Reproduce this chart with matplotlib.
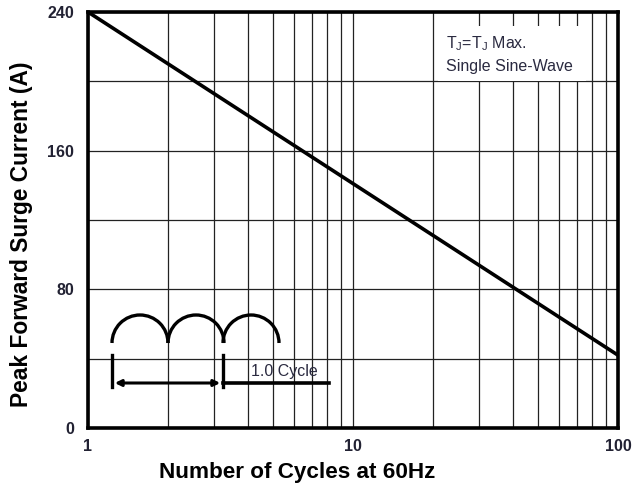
import numpy as np
import matplotlib.pyplot as plt
from matplotlib.patches import Arc, Rectangle, FancyArrowPatch

plt.rcParams['font.family'] = ['Liberation Sans', 'DejaVu Sans']

# data
cycles = [1, 100]
surge_current = [240, 42]
y_ticks = [0, 80, 160, 240]
y_minor = [40, 120, 200]
x_ticks = [1, 10, 100]
x_labels = ["1", "10", "100"]

fig = plt.figure(figsize=(6.42, 4.88), dpi=100)
ax = fig.add_axes([88/642, 60/488, 530/642, 416/488])

ax.plot(cycles, surge_current, color="black", linewidth=2.6, zorder=3)

ax.set_xscale("log")
ax.set_xlim(1, 100)
ax.set_ylim(0, 240)
ax.set_xticks(x_ticks)
ax.set_xticklabels(x_labels)
ax.set_yticks(y_ticks)
ax.set_yticks(y_minor, minor=True)
ax.grid(True, which="both", color="#222222", linewidth=0.9)
ax.tick_params(which="both", length=0)
ax.tick_params(axis="x", pad=8)
ax.tick_params(axis="y", pad=10)
for lab in ax.get_xticklabels() + ax.get_yticklabels():
    lab.set_fontsize(11.5)
    lab.set_fontweight("bold")
    lab.set_color("#222233")
for sp in ax.spines.values():
    sp.set_linewidth(2.6)

ax.set_xlabel("Number of Cycles at 60Hz", fontsize=16.2, fontweight="bold")
ax.set_ylabel("Peak Forward Surge Current (A)", fontsize=16.4, fontweight="bold")
ax.xaxis.set_label_coords(0.394, -0.082)
ax.yaxis.set_label_coords(-0.104, 0.466)

# note box top right
ax.add_patch(Rectangle((21, 200), 55, 32, facecolor="white", edgecolor="none", zorder=2))
ax.text(22.5, 222, "T$_\\mathregular{J}$=T$_\\mathregular{J}$ Max.", fontsize=11.5, color="#2a2a40",
        va="center", zorder=4)
ax.text(22.5, 208.5, "Single Sine-Wave", fontsize=11.5, color="#2a2a40", va="center", zorder=4)

# inset schematic of the half-sine wave
ins = fig.add_axes([100/642, (488-407)/488, 252/642, 110/488])
ins.set_xlim(0, 252)
ins.set_ylim(110, 0)
ins.set_facecolor("white")
ins.axis("off")
ins.patch.set_visible(True)
r = 28
for cx in [40, 96, 151]:
    ins.add_patch(Arc((cx, 46), 2*r, 2*r, theta1=180, theta2=360, color="black", linewidth=2.4))
ins.plot([12, 12], [58, 90], color="black", linewidth=2.4)
ins.plot([123, 123], [58, 90], color="black", linewidth=2.4)
ins.add_patch(FancyArrowPatch((12, 86), (123, 86), arrowstyle="<|-|>", mutation_scale=9,
                              color="black", linewidth=2.2))
ins.plot([123, 229], [86, 86], color="black", linewidth=2.6)
ins.text(151, 82, "1.0 Cycle", fontsize=11.5, color="#2a2a40", va="bottom")

plt.savefig("out.png", dpi=100)
